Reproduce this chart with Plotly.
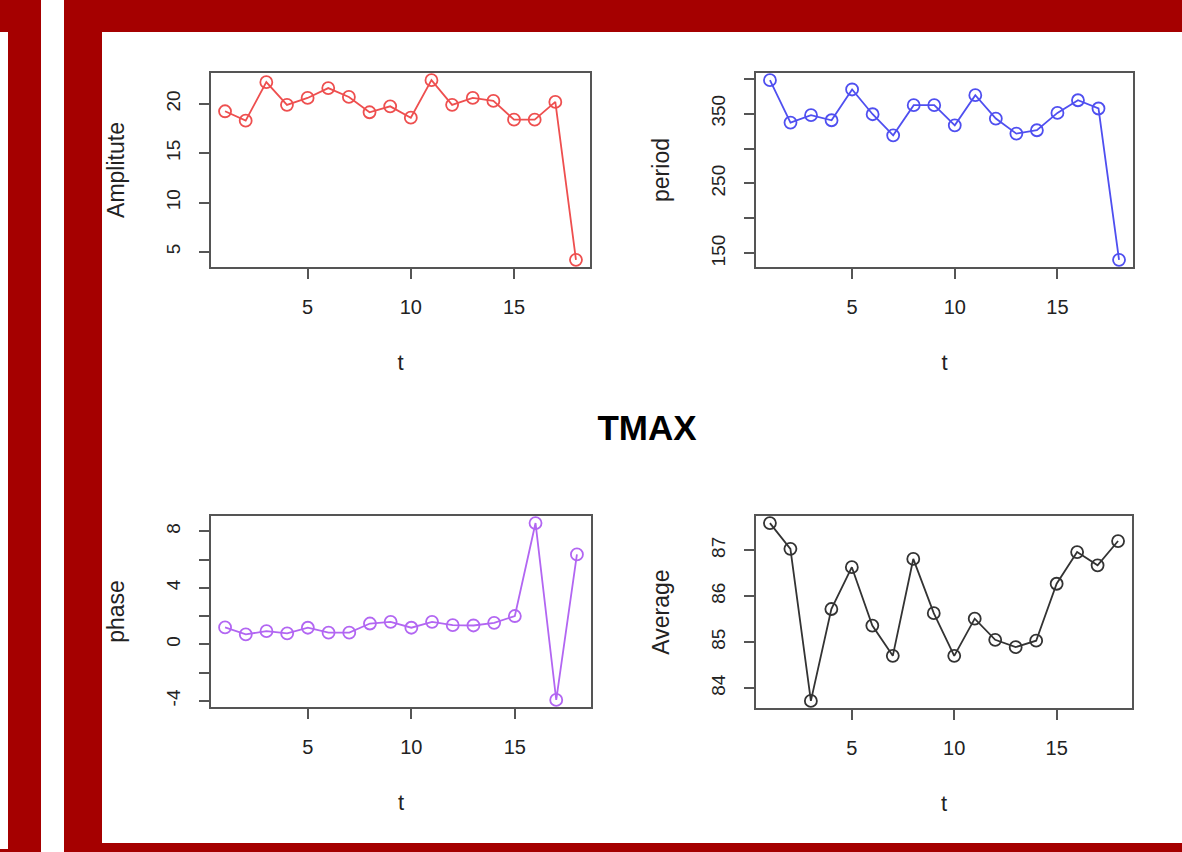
import plotly.graph_objects as go

W, H = 1182, 852

t = list(range(1, 19))
amplitude = [19.25, 18.3, 22.2, 19.9, 20.6, 21.6, 20.7, 19.15, 19.75, 18.6,
             22.4, 19.9, 20.6, 20.3, 18.4, 18.4, 20.2, 4.2]
period = [397.7, 337.1, 347.6, 340.4, 384.4, 349.0, 318.9, 361.9, 361.9, 333.2,
          376.2, 342.8, 321.3, 326.1, 350.9, 369.0, 357.2, 140.8]
phase = [1.19, 0.70, 0.93, 0.77, 1.17, 0.82, 0.82, 1.47, 1.59, 1.17,
         1.59, 1.35, 1.33, 1.52, 2.0, 8.58, -3.94, 6.36]
average = [87.59, 87.03, 83.72, 85.72, 86.63, 85.36, 84.70, 86.81, 85.63, 84.70,
           85.51, 85.05, 84.89, 85.03, 86.27, 86.96, 86.67, 87.20]

x_ticks = [5, 10, 15]
amp_ticks = [5, 10, 15, 20]
amp_text = ["5", "10", "15", "20"]
per_ticks = [150, 200, 250, 300, 350, 400]
per_text = ["150", "", "250", "", "350", ""]
ph_ticks = [-4, -2, 0, 2, 4, 6, 8]
ph_text = ["-4", "", "0", "", "4", "", "8"]
avg_ticks = [84, 85, 86, 87]
avg_text = ["84", "85", "86", "87"]

panels = [
    dict(y=amplitude, color="#ee4f4f", title="Amplitute", tv=amp_ticks, tt=amp_text,
         box=(211, 590, 73, 267)),
    dict(y=period, color="#4f4ff0", title="period", tv=per_ticks, tt=per_text,
         box=(756, 1133, 73, 267)),
    dict(y=phase, color="#b266f2", title="phase", tv=ph_ticks, tt=ph_text,
         box=(211, 591, 516, 707)),
    dict(y=average, color="#333333", title="Average", tv=avg_ticks, tt=avg_text,
         box=(756, 1132, 516, 708)),
]


def pad(vals):
    lo, hi = min(vals), max(vals)
    s = hi - lo
    return [lo - 0.04 * s, hi + 0.04 * s]


FONT = "Liberation Sans, Arial, sans-serif"
AXC = "#555555"
TXT = "#222222"

fig = go.Figure()
layout = dict(
    width=W, height=H,
    margin=dict(l=0, r=0, t=0, b=0),
    paper_bgcolor="white", plot_bgcolor="white",
    showlegend=False,
    font=dict(family=FONT, color=TXT),
)

for i, p in enumerate(panels, start=1):
    xs = "" if i == 1 else str(i)
    fig.add_trace(go.Scatter(
        x=t, y=p["y"], mode="lines+markers",
        line=dict(color=p["color"], width=1.8),
        marker=dict(symbol="circle-open", size=12, color=p["color"], line=dict(width=1.8)),
        xaxis="x" + xs, yaxis="y" + xs,
    ))
    x0, x1, y0, y1 = p["box"]
    layout["xaxis" + xs] = dict(
        domain=[x0 / W, x1 / W], anchor="y" + xs, range=pad(t),
        tickvals=x_ticks, ticks="outside", ticklen=10, tickwidth=1.5, tickcolor=AXC,
        showline=True, mirror=True, linecolor=AXC, linewidth=1.5,
        showgrid=False, zeroline=False,
        tickfont=dict(size=20, family=FONT, color=TXT),
        ticklabelstandoff=11,
        title=dict(text="t", font=dict(size=22, family=FONT, color=TXT), standoff=38),
        automargin=False,
    )
    layout["yaxis" + xs] = dict(
        domain=[1 - y1 / H, 1 - y0 / H], anchor="x" + xs, range=pad(p["y"]),
        tickvals=p["tv"], ticktext=p["tt"], tickangle=-90,
        ticks="outside", ticklen=10, tickwidth=1.5, tickcolor=AXC,
        showline=True, mirror=True, linecolor=AXC, linewidth=1.5,
        showgrid=False, zeroline=False,
        tickfont=dict(size=19, family=FONT, color=TXT),
        ticklabelstandoff=12,
        title=dict(text=p["title"], font=dict(size=23, family=FONT, color=TXT), standoff=32),
        automargin=False,
    )

RED = "#a50000"
shapes = []
for (a, b, c, d, col) in [
    (8, 41, 0, 852, RED),
    (0, 41, 0, 32, RED),
    (0, 41, 849, 852, RED),
    (64, W, 0, H, RED),
    (102, W, 32, 843, "white"),
]:
    shapes.append(dict(type="rect", xref="paper", yref="paper",
                       x0=a / W, x1=b / W, y0=1 - d / H, y1=1 - c / H,
                       fillcolor=col, line=dict(width=0), layer="below"))
layout["shapes"] = shapes

layout["title"] = dict(text="<b>TMAX</b>", x=647 / W, y=1 - 428 / H,
                       xanchor="center", yanchor="middle",
                       font=dict(size=35, family=FONT, color="black"))

fig.update_layout(**layout)
fig.write_html(
    "out.html",
    config={"displayModeBar": False},
    post_script="document.body.style.margin='0';document.body.style.overflow='hidden';",
)
